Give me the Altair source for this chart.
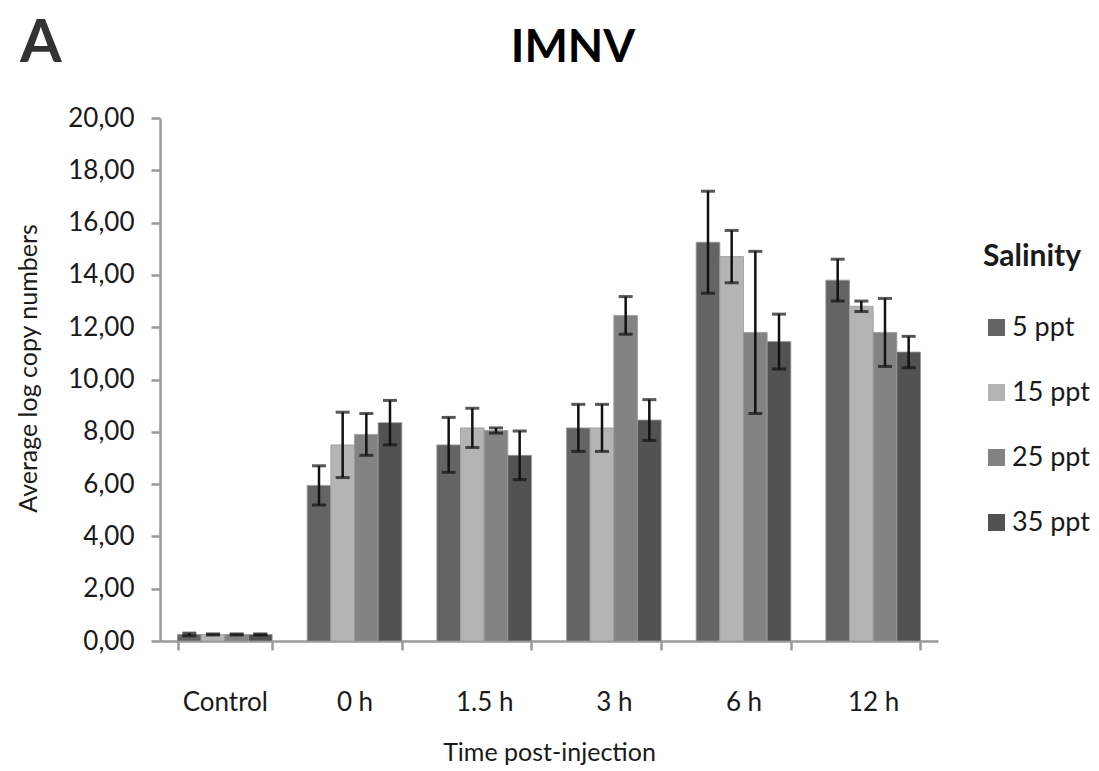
import altair as alt
import pandas as pd

# Time points and salinity groups
times = ["Control", "0 h", "1.5 h", "3 h", "6 h", "12 h"]
salinities = ["5 ppt", "15 ppt", "25 ppt", "35 ppt"]

# Mean log copy numbers per salinity (one value per time point)
mean_5 = [0.25, 5.95, 7.50, 8.15, 15.25, 13.80]
mean_15 = [0.25, 7.50, 8.15, 8.15, 14.70, 12.80]
mean_25 = [0.25, 7.90, 8.05, 12.45, 11.80, 11.80]
mean_35 = [0.25, 8.35, 7.10, 8.45, 11.45, 11.05]

# Standard deviations
sd_5 = [0.05, 0.75, 1.05, 0.90, 1.95, 0.80]
sd_15 = [0.02, 1.25, 0.75, 0.90, 1.00, 0.20]
sd_25 = [0.02, 0.80, 0.10, 0.72, 3.10, 1.30]
sd_35 = [0.02, 0.85, 0.93, 0.78, 1.05, 0.60]

bar_colors = ["#646464", "#b4b4b4", "#838383", "#525252"]

rows = []
for sal, means, sds in zip(salinities,
                           [mean_5, mean_15, mean_25, mean_35],
                           [sd_5, sd_15, sd_25, sd_35]):
    for t, m, s in zip(times, means, sds):
        rows.append({"time": t, "salinity": sal, "mean": m,
                     "low": m - s, "high": m + s})
df = pd.DataFrame(rows)

FONT = "Lato"
W, H = 778, 523

x_enc = alt.X(
    "time:N",
    sort=times,
    scale=alt.Scale(paddingInner=0.27, paddingOuter=0.135),
    axis=alt.Axis(
        title="Time post-injection",
        labelAngle=0,
        tickBand="extent",
        tickSize=9,
        tickWidth=2.5,
        tickColor="#9a9a9a",
        domainColor="#9a9a9a",
        domainWidth=2.5,
        labelFont=FONT,
        labelFontSize=26,
        labelColor="#1a1a1a",
        labelPadding=60,
        labelBaseline="alphabetic",
        titleFont=FONT,
        titleFontSize=25,
        titleFontWeight="normal",
        titleColor="#1a1a1a",
        titleBaseline="alphabetic",
        titleY=119,
    ),
)
xoff_enc = alt.XOffset("salinity:N", sort=salinities,
                       scale=alt.Scale(paddingInner=0, paddingOuter=0))

y_scale = alt.Scale(domain=[0, 20], nice=False)

bars = alt.Chart(df).mark_bar(stroke="#9a9a9a", strokeWidth=0.8).encode(
    x=x_enc,
    xOffset=xoff_enc,
    y=alt.Y(
        "mean:Q",
        scale=y_scale,
        axis=alt.Axis(
            title="Average log copy numbers",
            values=list(range(0, 21, 2)),
            labelExpr="replace(format(datum.value, '.2f'), '.', ',')",
            grid=False,
            tickSize=9,
            tickWidth=2.5,
            tickColor="#9a9a9a",
            domainColor="#9a9a9a",
            domainWidth=2.5,
            labelFont=FONT,
            labelFontSize=26,
            labelColor="#1a1a1a",
            labelPadding=17,
            titleFont=FONT,
            titleFontSize=25,
            titleFontWeight="normal",
            titleColor="#1a1a1a",
            titleX=-132,
            titleY=250,
            titleBaseline="middle",
        ),
    ),
    color=alt.Color(
        "salinity:N",
        sort=salinities,
        scale=alt.Scale(domain=salinities, range=bar_colors),
        legend=alt.Legend(
            title="Salinity",
            orient="none",
            legendX=823,
            legendY=124,
            symbolType="square",
            symbolSize=290,
            symbolStrokeWidth=0,
            titleFont=FONT,
            titleFontSize=30,
            titleFontWeight="bold",
            titleColor="#1a1a1a",
            titlePadding=42,
            labelFont=FONT,
            labelFontSize=27,
            labelColor="#1a1a1a",
            labelOffset=2,
            rowPadding=37,
        ),
    ),
)

err_rule = alt.Chart(df).mark_rule(color="#111111", strokeWidth=2.5).encode(
    x=alt.X("time:N", sort=times),
    xOffset=xoff_enc,
    y=alt.Y("low:Q", scale=y_scale),
    y2="high:Q",
)

cap_low = alt.Chart(df).mark_tick(color="#111111", size=14, thickness=3,
                                  orient="horizontal").encode(
    x=alt.X("time:N", sort=times),
    xOffset=xoff_enc,
    y=alt.Y("low:Q", scale=y_scale),
)

cap_high = alt.Chart(df).mark_tick(color="#111111", size=14, thickness=3,
                                   orient="horizontal").encode(
    x=alt.X("time:N", sort=times),
    xOffset=xoff_enc,
    y=alt.Y("high:Q", scale=y_scale),
)

panel_label = alt.Chart(pd.DataFrame({"t": ["A"]})).mark_text(
    font=FONT, fontSize=60, fontWeight="bold", color="#333333",
    align="left", baseline="alphabetic",
).encode(text="t:N", x=alt.value(-140), y=alt.value(-56))

main_title = alt.Chart(pd.DataFrame({"t": ["IMNV"]})).mark_text(
    font=FONT, fontSize=46, fontWeight="bold", color="#000000",
    align="center", baseline="alphabetic",
).encode(text="t:N", x=alt.value(413), y=alt.value(-56))

chart = alt.layer(bars, err_rule, cap_low, cap_high, panel_label, main_title).properties(
    width=W,
    height=H,
    padding={"left": 160, "top": 118, "right": 161, "bottom": 130},
    autosize=alt.AutoSizeParams(type="none"),
    background="white",
).configure_view(stroke=None)

chart.save("out.html", embed_options={"renderer": "svg", "actions": False})
